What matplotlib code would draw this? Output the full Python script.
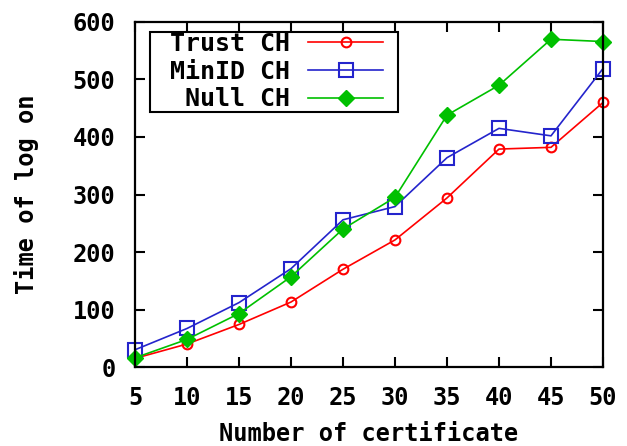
import numpy as np
import matplotlib.pyplot as plt
import matplotlib.transforms as mtransforms
from matplotlib.patches import Rectangle

# number of certificates on the x axis
certs = [5, 10, 15, 20, 25, 30, 35, 40, 45, 50]

# log on time for each scheme
trust_ch = [15, 40, 74, 113, 170, 221, 294, 379, 382, 460]
minid_ch = [30, 67, 112, 171, 256, 279, 364, 415, 402, 519]
null_ch = [16, 48, 93, 157, 240, 295, 438, 490, 570, 566]

labels = ['Trust CH', 'MinID CH', ' Null CH']
yticks = [0, 100, 200, 300, 400, 500, 600]

font = {'family': 'DejaVu Sans Mono', 'weight': 'bold', 'size': 17}

fig = plt.figure(figsize=(6.27, 4.46), dpi=100)
ax = fig.add_axes([0.2153, 0.1771, 0.7464, 0.7736])

ax.plot(certs, trust_ch, color='#ff0000', lw=1.2, marker='o', ms=7,
        mfc='none', mec='#ff0000', mew=1.5, label=labels[0], clip_on=False)
ax.plot(certs, minid_ch, color='#2424cc', lw=1.2, marker='s', ms=10,
        mfc='none', mec='#2424cc', mew=1.5, label=labels[1], clip_on=False)
ax.plot(certs, null_ch, color='#00c000', lw=1.2, marker='D', ms=8,
        mfc='#00c000', mec='#00c000', label=labels[2], clip_on=False)

ax.set_xlim(5, 50)
ax.set_ylim(0, 600)
ax.set_xticks(certs)
ax.set_yticks(yticks)
ax.set_xticklabels([str(c) for c in certs], fontdict=font)
ax.set_yticklabels([str(v) for v in yticks], fontdict=font)
# gnuplot-like: x tick labels sit a bit right of the tick
shift = mtransforms.ScaledTranslation(0.05, 0, fig.dpi_scale_trans)
for t in ax.get_xticklabels():
    t.set_transform(t.get_transform() + shift)
ax.tick_params(direction='in', length=7, width=1.5, top=True, right=True)
ax.tick_params(axis='x', pad=14)
ax.tick_params(axis='y', pad=14)
for s in ax.spines.values():
    s.set_linewidth(1.6)

ax.set_xlabel('Number of certificate', fontdict=font, labelpad=8)
ax.set_ylabel('Time of log on', fontdict=font, labelpad=24)

# key box
box = Rectangle((150 / 627, 1 - 112 / 446), 248 / 627, 80 / 446,
                transform=fig.transFigure, facecolor='white',
                edgecolor='black', lw=1.5, zorder=4, clip_on=False)
ax.add_patch(box)

leg = ax.legend(loc='upper right', bbox_to_anchor=(383 / 627, 1 - 32 / 446),
                bbox_transform=fig.transFigure,
                prop={'family': 'DejaVu Sans Mono', 'weight': 'bold', 'size': 18},
                markerfirst=False, frameon=False, handlelength=3.0,
                borderpad=0, labelspacing=0.15, handletextpad=0.72,
                borderaxespad=0)
leg.set_zorder(5)

fig.savefig('out.png', dpi=100)
